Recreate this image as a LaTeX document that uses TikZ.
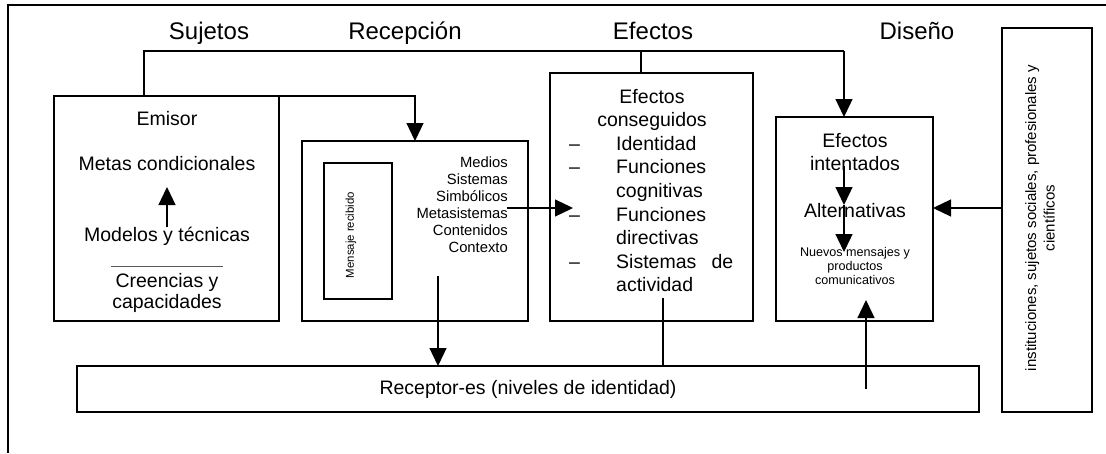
\documentclass[tikz,border=0pt]{standalone}
\usepackage{fontspec}
\setmainfont{Liberation Sans}
\usetikzlibrary{arrows.meta}
\newcommand\fbody{\fontsize{19.5}{23.6}\selectfont}
\newcommand\ftitle{\fontsize{24}{28}\selectfont}
\newcommand\fmed{\fontsize{14.8}{17}\selectfont}
\newcommand\fmsg{\fontsize{11.4}{13}\selectfont}
\newcommand\fnuevo{\fontsize{12.6}{14}\selectfont}
\newcommand\finst{\fontsize{15}{18.5}\selectfont}
\begin{document}
\begin{tikzpicture}[x=1pt,y=-1pt,
  box/.style={draw,line width=1.3pt,inner sep=0pt,outer sep=0pt},
  conn/.style={line width=1.3pt},
  arr/.style={conn,-{Triangle[length=18pt,width=17pt]}},
  lbl/.style={inner sep=0pt,anchor=base},
  lblw/.style={inner sep=0pt,anchor=base west},
  lble/.style={inner sep=0pt,anchor=base east}]
\useasboundingbox (0,0) rectangle (1106,453);
\fill[white] (0,0) rectangle (1106,453);
\draw[line width=1.5pt] (8,453) -- (8,5) -- (1106,5);
% boxes
\node[box,minimum width=225pt,minimum height=225pt] (emisorbox) at (166.5,208.5) {};
\node[box,minimum width=226pt,minimum height=180pt] (recbox) at (415,231) {};
\node[box,minimum width=68pt,minimum height=136pt] (msgbox) at (358,231) {};
\node[box,minimum width=203pt,minimum height=248pt] (conbox) at (651.5,197) {};
\node[box,minimum width=157pt,minimum height=204pt] (intbox) at (854.5,219) {};
\node[box,minimum width=90pt,minimum height=384pt] (instbox) at (1047,220) {};
\node[box,minimum width=902pt,minimum height=46pt,font=\fbody] (recepbox) at (528,389) {Receptor-es (niveles de identidad)};
% titles
\node[lbl,font=\ftitle] (tSuj) at (209,39.5) {Sujetos};
\node[lbl,font=\ftitle] (tRec) at (405,39.5) {Recepción};
\node[lbl,font=\ftitle] (tEfe) at (653,39.5) {Efectos};
\node[lbl,font=\ftitle] (tDis) at (917,39.5) {Diseño};
% emisor
\node[lbl,font=\fbody] (em1) at (167,125) {Emisor};
\node[lbl,font=\fbody] (em2) at (167,170) {Metas condicionales};
\node[lbl,font=\fbody] (em3) at (167,241) {Modelos y técnicas};
\node[lbl,font=\fbody] (em4) at (167,287) {Creencias y};
\node[lbl,font=\fbody] (em5) at (167,308) {capacidades};
\draw[line width=0.7pt,gray!70!black] (111,266) -- (223,266);
% recepcion
\node[lble,font=\fmed] (md1) at (508,167) {Medios};
\node[lble,font=\fmed] (md2) at (508,184) {Sistemas};
\node[lble,font=\fmed] (md3) at (508,201) {Simbólicos};
\node[lble,font=\fmed] (md4) at (508,218) {Metasistemas};
\node[lble,font=\fmed] (md5) at (508,235) {Contenidos};
\node[lble,font=\fmed] (md6) at (508,252) {Contexto};
\node[rotate=90,font=\fmsg,inner sep=0pt] (msgtxt) at (351,235) {Mensaje recibido};
% efectos conseguidos
\node[lbl,font=\fbody] (ec1) at (652,103) {Efectos};
\node[lbl,font=\fbody] (ec2) at (652,126.6) {conseguidos};
\node[lblw,font=\fbody] (ec3) at (616,150.2) {Identidad};
\node[lblw,font=\fbody] (ec4) at (616,173.8) {Funciones};
\node[lblw,font=\fbody] (ec5) at (616,197.4) {cognitivas};
\node[lblw,font=\fbody] (ec6) at (616,221) {Funciones};
\node[lblw,font=\fbody] (ec7) at (616,244.6) {directivas};
\node[lblw,font=\fbody] (ec8) at (616,268.2) {\makebox[117pt][l]{Sistemas\hfill de}};
\node[lblw,font=\fbody] (ec9) at (616,291.8) {actividad};
\node[lblw,font=\fbody] (d1) at (569,150.2) {–};
\node[lblw,font=\fbody] (d2) at (569,173.8) {–};
\node[lblw,font=\fbody] (d3) at (569,221) {–};
\node[lblw,font=\fbody] (d4) at (569,268.2) {–};
% efectos intentados
\node[lbl,font=\fbody] (ei1) at (855,147) {Efectos};
\node[lbl,font=\fbody] (ei2) at (855,170) {intentados};
\node[lbl,font=\fbody] (ei3) at (855,217) {Alternativas};
\node[font=\fnuevo,align=center,inner sep=0pt] (nuevos) at (855,266) {Nuevos mensajes y\\productos\\comunicativos};
% instituciones
\node[rotate=90,font=\finst,align=center,inner sep=0pt] (insttxt) at (1040,218) {instituciones, sujetos sociales, profesionales y\\científicos};
% connectors
\coordinate (tA) at (144,51);
\coordinate (tB) at (641,51);
\coordinate (tC) at (844,51);
\draw[conn] (emisorbox.north -| tA) -- (tA) -- (tC);
\draw[arr] (tC) -- (intbox.north -| tC);
\draw[conn] (tB) -- (conbox.north -| tB);
\draw[arr] (emisorbox.north east) -| (recbox.north);
\coordinate (eaS) at (167,227);
\coordinate (eaE) at (167,187);
\draw[arr] (eaS) -- (eaE);
\coordinate (mS) at (507,208);
\coordinate (mE) at (573,208);
\draw[arr] (mS) -- (mE);
\coordinate (rS) at (438,276);
\draw[arr] (rS) -- (recepbox.north -| rS);
\coordinate (aS) at (663,298);
\draw[conn] (aS) -- (recepbox.north -| aS);
\coordinate (uS) at (866,389);
\coordinate (uE) at (866,300);
\draw[arr] (uS) -- (uE);
\coordinate (iy) at (0,208);
\draw[arr] (instbox.west |- iy) -- (intbox.east |- iy);
\coordinate (iA) at (844,166);
\coordinate (iB) at (844,205);
\coordinate (iC) at (844,252);
\draw[arr] (iA) -- (iB);
\draw[arr] (iB) -- (iC);
\end{tikzpicture}
\end{document}
